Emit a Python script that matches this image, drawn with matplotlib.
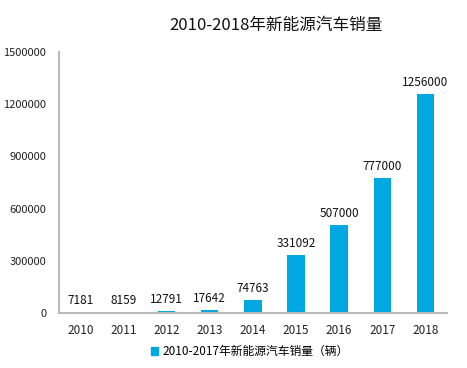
import matplotlib
matplotlib.use("Agg")
import matplotlib.pyplot as plt
from matplotlib.patches import Patch

plt.rcParams['font.family'] = ['Noto Sans CJK SC', 'DejaVu Sans']

years = ['2010', '2011', '2012', '2013', '2014', '2015', '2016', '2017', '2018']
sales = [7181, 8159, 12791, 17642, 74763, 331092, 507000, 777000, 1256000]
yticks = [0, 300000, 600000, 900000, 1200000, 1500000]
title = '2010-2018年新能源汽车销量'
legend_label = '2010-2017年新能源汽车销量（辆）'
color = '#00A8E1'

fig = plt.figure(figsize=(4.67, 3.68), dpi=100)
ax = fig.add_axes([0.126, 0.149, 0.831, 0.71])
x = range(len(years))
bars = ax.bar(x, sales, width=0.4, color=color)
for xi, v in zip(x, sales):
    ax.text(xi, v + 30000, str(v), ha='center', va='bottom', fontsize=8.5, color='#111111')
ax.set_xlim(-0.5, len(years) - 0.5)
ax.set_ylim(0, 1500000)
ax.set_yticks(yticks)
ax.set_yticklabels([str(t) for t in yticks], fontsize=8, color='#222222')
ax.set_xticks(list(x))
ax.set_xticklabels(years, fontsize=8.5, color='#222222')
ax.tick_params(axis='x', length=0, pad=8)
ax.tick_params(axis='y', length=0, pad=9)
for s in ['top', 'right']:
    ax.spines[s].set_visible(False)
for s in ['left', 'bottom']:
    ax.spines[s].set_color('#BBBBBB')
    ax.spines[s].set_linewidth(1.5)
fig.text(0.59, 0.93, title, ha='center', va='center', fontsize=12, color='#111111')
fig.legend(handles=[Patch(color=color)], labels=[legend_label], loc='center',
           bbox_to_anchor=(0.535, 0.045), frameon=False, fontsize=8.5,
           handlelength=0.6, handleheight=0.6, handletextpad=0.3)
fig.savefig('out.png', dpi=100)
